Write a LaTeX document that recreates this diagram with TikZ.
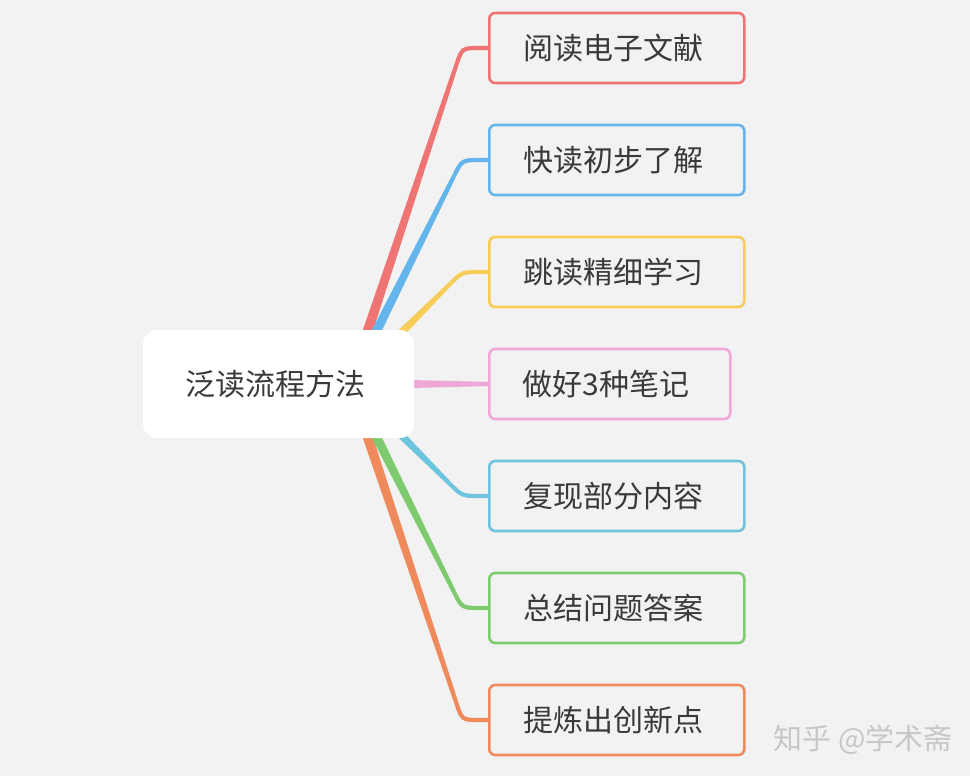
\documentclass[tikz,border=0pt]{standalone}
\usepackage{fontspec}
\setmainfont{Noto Sans CJK SC}
\usetikzlibrary{calc}
\definecolor{bg}{HTML}{F2F2F2}
\definecolor{txt}{HTML}{3A3A3A}
\definecolor{cred}{HTML}{EF7474}
\definecolor{cblue}{HTML}{64B5EC}
\definecolor{cyel}{HTML}{F6CD58}
\definecolor{cpink}{HTML}{EEA8D8}
\definecolor{ccyan}{HTML}{6CC4DF}
\definecolor{cgreen}{HTML}{7DCB6E}
\definecolor{corange}{HTML}{EF8A5C}
\tikzset{
  leafbox/.style={draw=#1, line width=2.6pt, rounded corners=6pt, fill=bg,
    minimum height=70pt, text=txt, font=\fontsize{30}{34}\selectfont,
    inner xsep=0pt, anchor=west},
  rootbox/.style={fill=white, rounded corners=14pt, minimum width=271pt,
    minimum height=108pt, text=txt, font=\fontsize{30}{34}\selectfont},
}
\newcommand{\branch}[3]{% #1 color, #2 target y, #3 box name
  \coordinate (P1) at ($(C#3)!18pt!(O)$);
  \fill[#1] ($(O)!5.5pt!90:(P1)$) -- ($(P1)!2.1pt!-90:(O)$) -- ($(P1)!2.1pt!90:(O)$) -- ($(O)!5.5pt!-90:(P1)$) -- cycle;
  \draw[#1, line width=4.2pt] (P1) .. controls (C#3) .. ($(C#3)+(18,0)$) -- (#3.west);
}
\begin{document}
\begin{tikzpicture}[x=1pt,y=-1pt]
\useasboundingbox (0,0) rectangle (970,776);
\fill[bg] (0,0) rectangle (970,776);

% leaf boxes
\node[leafbox=cred, minimum width=255pt] (b1) at (488,48) {\hspace*{-7pt}阅读电子文献};
\node[leafbox=cblue, minimum width=255pt] (b2) at (488,160) {\hspace*{-7pt}快读初步了解};
\node[leafbox=cyel, minimum width=255pt] (b3) at (488,272) {\hspace*{-7pt}跳读精细学习};
\node[leafbox=cpink, minimum width=241pt] (b4) at (488,384) {\hspace*{-7pt}做好3种笔记};
\node[leafbox=ccyan, minimum width=255pt] (b5) at (488,496) {\hspace*{-7pt}复现部分内容};
\node[leafbox=cgreen, minimum width=255pt] (b6) at (488,608) {\hspace*{-7pt}总结问题答案};
\node[leafbox=corange, minimum width=255pt] (b7) at (488,720) {\hspace*{-7pt}提炼出创新点};

% branches
\coordinate (O) at (350,384);
\coordinate (Cb1) at (462,48);
\coordinate (Cb2) at (462,160);
\coordinate (Cb3) at (462,272);
\coordinate (Cb5) at (462,496);
\coordinate (Cb6) at (462,608);
\coordinate (Cb7) at (462,720);
\branch{corange}{720}{b7}
\branch{cgreen}{608}{b6}
\branch{ccyan}{496}{b5}
\branch{cred}{48}{b1}
\branch{cblue}{160}{b2}
\branch{cyel}{272}{b3}
\fill[cpink] ($(O)+(0,-5.5)$) -- ($(b4.west)+(0,-2.1)$) -- ($(b4.west)+(0,2.1)$) -- ($(O)+(0,5.5)$) -- cycle;

% root
\node[rootbox] (root) at (278.5,384) {\hspace*{-7pt}泛读流程方法};

% watermark
\node[text=black!22, font=\fontsize{29}{32}\selectfont, anchor=east] (wm) at (956,740) {知乎 @学术斋};
\end{tikzpicture}
\end{document}
